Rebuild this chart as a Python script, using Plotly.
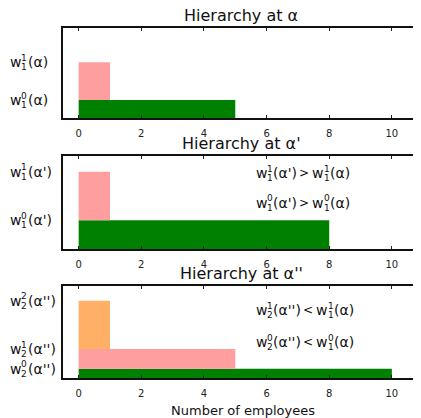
import re
import plotly.graph_objects as go

# page body has an 8px margin: the figure is drawn at (8, 8)
OFF = 8
W, H = 421 - OFF, 418 - OFF
FONT = "DejaVu Sans"

# ---------------- data ----------------
x_ticks = [0, 2, 4, 6, 8, 10]
level_colors = ["#008000", "#ff9e9e", "#ffb066"]

titles = ["Hierarchy at α", "Hierarchy at α'", "Hierarchy at α''"]

employees_alpha = [5, 1]
wages_alpha = [2.0, 6.2]
labels_alpha = ["w_1^0(α)", "w_1^1(α)"]

employees_alpha_p = [8, 1]
wages_alpha_p = [3.1, 8.3]
labels_alpha_p = ["w_1^0(α')", "w_1^1(α')"]

employees_alpha_pp = [10, 5, 1]
wages_alpha_pp = [1.0, 3.15, 8.4]
labels_alpha_pp = ["w_2^0(α'')", "w_2^1(α'')", "w_2^2(α'')"]

comparisons_p = ["w_1^1(α') > w_1^1(α)", "w_1^0(α') > w_1^0(α)"]
comparisons_pp = ["w_2^1(α'') < w_1^1(α)", "w_2^0(α'') < w_1^0(α)"]

x_title = "Number of employees"

# ---------------- layout helpers ----------------
def PX(x):
    return (x - OFF) / W


def PY(y):
    return 1 - (y - OFF) / H


CW = {"w": 0.818, "(": 0.390, ")": 0.390, "α": 0.659, "'": 0.275,
      " ": 0.318, ">": 0.838, "<": 0.838}


def tw(s, size):
    return sum(CW.get(c, 0.636) for c in s) * size


MAIN, SCR = 14, 9
annotations = []


def add_piece(text, x, y, xref, yref, xshift, yshift, size):
    annotations.append(dict(text=text, x=x, y=y, xref=xref, yref=yref,
                            xanchor="left", yanchor="middle", showarrow=False,
                            xshift=xshift, yshift=yshift, borderpad=0,
                            font=dict(family=FONT, size=size, color="#111")))


def add_w(expr, x, y, xref, yref, start):
    m = re.match(r"w_(\d)\^(\d)\((.*)\)", expr)
    sub, sup, arg = m.groups()
    cur = start
    add_piece("w", x, y, xref, yref, cur, 0, MAIN)
    cur += tw("w", MAIN)
    add_piece(sup, x, y, xref, yref, cur, 4.5, SCR)
    add_piece(sub, x, y, xref, yref, cur, -5, SCR)
    cur += tw("0", SCR) + 0.5
    t = "(" + arg + ")"
    add_piece(t, x, y, xref, yref, cur, 0, MAIN)
    cur += tw(t, MAIN)
    return cur


def add_comparison(expr, x, y, xref, yref):
    left, op, right = re.split(r" ([<>]) ", expr)
    cur = add_w(left, x, y, xref, yref, 0)
    cur += 2
    add_piece(op, x, y, xref, yref, cur, 0, MAIN - 2)
    cur += tw(op, MAIN - 2) + 3
    add_w(right, x, y, xref, yref, cur)


# ---------------- figure ----------------
panels = [
    (employees_alpha, wages_alpha, labels_alpha, [], (28, 118)),
    (employees_alpha_p, wages_alpha_p, labels_alpha_p, comparisons_p, (156, 249)),
    (employees_alpha_pp, wages_alpha_pp, labels_alpha_pp, comparisons_pp, (286, 378)),
]
comparison_y = [[], [8.17, 4.95], [7.39, 3.91]]

fig = go.Figure()
layout = dict(width=W, height=H, margin=dict(l=0, r=0, t=0, b=0),
              paper_bgcolor="white", plot_bgcolor="white", showlegend=False,
              barmode="overlay")

XR = [-0.5, 10.93]
for i, (emp, wages, labels, comps, (top, bot)) in enumerate(panels):
    n = i + 1
    xa = "x" if n == 1 else f"x{n}"
    ya = "y" if n == 1 else f"y{n}"
    lo = [0] + wages[:-1]
    fig.add_trace(go.Bar(
        orientation="h", x=emp, base=0,
        y=[(a + b) / 2 for a, b in zip(lo, wages)],
        width=[b - a for a, b in zip(lo, wages)],
        marker=dict(color=level_colors[:len(emp)], line=dict(width=0)),
        xaxis=xa, yaxis=ya, hoverinfo="skip"))
    xkey = "xaxis" if n == 1 else f"xaxis{n}"
    ykey = "yaxis" if n == 1 else f"yaxis{n}"
    layout[xkey] = dict(domain=[PX(63), 1], range=XR, anchor=ya,
                        tickvals=x_ticks, ticktext=[str(v) for v in x_ticks],
                        ticks="inside", ticklen=3, tickwidth=1, tickcolor="#222",
                        showline=True, linewidth=1.6, linecolor="#111",
                        mirror="ticks", showgrid=False, zeroline=False,
                        ticklabelstandoff=5,
                        tickfont=dict(family=FONT, size=10, color="#222"))
    layout[ykey] = dict(domain=[PY(bot), PY(top)], range=[0, 10], anchor=xa,
                        showline=True, linewidth=1.6, linecolor="#111",
                        showticklabels=False, ticks="", showgrid=False,
                        zeroline=False)
    for lab, wv in zip(labels, wages):
        add_w(lab, PX(9), wv, "paper", ya, 0)
    for comp, cy in zip(comps, comparison_y[i]):
        add_comparison(comp, 5.62, cy, xa, ya)
    annotations.append(dict(text=titles[i], x=PX(241), y=PY(top - 13),
                            xref="paper", yref="paper", xanchor="center",
                            yanchor="middle", showarrow=False,
                            font=dict(family=FONT, size=16, color="#111")))

annotations.append(dict(text=x_title, x=PX(243), y=PY(410), xref="paper",
                        yref="paper", xanchor="center", yanchor="middle",
                        showarrow=False,
                        font=dict(family=FONT, size=13, color="#111")))
layout["annotations"] = annotations
fig.update_layout(**layout)
fig.write_html("out.html")
